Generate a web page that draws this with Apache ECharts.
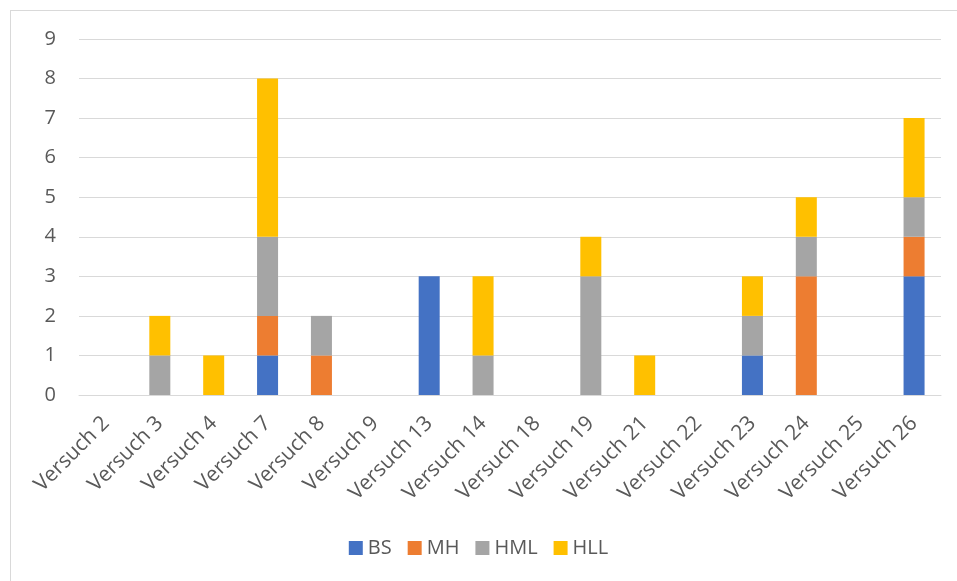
<!DOCTYPE html>
<html>
<head>
<meta charset="utf-8">
<script src="https://cdn.jsdelivr.net/npm/echarts@6/dist/echarts.min.js"></script>
<style>
  html, body { margin: 0; padding: 0; background: #fff; }
  #frame { position: absolute; left: 10px; top: 10px; width: 960px; height: 600px; border: 1px solid #d9d9d9; box-sizing: border-box; }
  #chart { position: absolute; left: 0; top: 0; width: 957px; height: 581px; }
</style>
</head>
<body>
<div id="frame"></div>
<div id="chart"></div>
<script>
const categories = ['Versuch 2', 'Versuch 3', 'Versuch 4', 'Versuch 7', 'Versuch 8', 'Versuch 9', 'Versuch 13', 'Versuch 14',
  'Versuch 18', 'Versuch 19', 'Versuch 21', 'Versuch 22', 'Versuch 23', 'Versuch 24', 'Versuch 25', 'Versuch 26']
const bs  = [0, 0, 0, 1, 0, 0, 3, 0, 0, 0, 0, 0, 1, 0, 0, 3]
const mh  = [0, 0, 0, 1, 1, 0, 0, 0, 0, 0, 0, 0, 0, 3, 0, 1]
const hml = [0, 1, 0, 2, 1, 0, 0, 1, 0, 3, 0, 0, 1, 1, 0, 1]
const hll = [0, 1, 1, 4, 0, 0, 0, 2, 0, 1, 1, 0, 1, 1, 0, 2]

const font = 'Open Sans, Noto Sans, sans-serif'
const textColor = '#595959'

function barSeries(name, data, color) {
  return {
    name: name,
    type: 'bar',
    stack: 'total',
    data: data,
    barWidth: '39%',
    itemStyle: { color: color },
    emphasis: { disabled: true },
  }
}

const myChart = echarts.init(document.getElementById('chart'))
const option = {
  animation: false,
  textStyle: { fontFamily: font },
  grid: { left: 79, right: 16, top: 39, bottom: 186 },
  legend: {
    bottom: 18,
    left: 'center',
    itemWidth: 14,
    itemHeight: 14,
    itemGap: 16,
    icon: 'rect',
    textStyle: { fontSize: 20, color: textColor, fontFamily: font },
    data: ['BS', 'MH', 'HML', 'HLL'],
  },
  xAxis: {
    type: 'category',
    data: categories,
    axisLine: { lineStyle: { color: '#d9d9d9' } },
    axisTick: { show: false },
    axisLabel: {
      rotate: 45,
      interval: 0,
      fontSize: 21,
      color: textColor,
      margin: 25,
    },
  },
  yAxis: {
    type: 'value',
    min: 0,
    max: 9,
    interval: 1,
    axisLine: { show: false },
    axisTick: { show: false },
    axisLabel: { fontSize: 20, color: textColor, margin: 23 },
    splitLine: { lineStyle: { color: '#d9d9d9', width: 1 } },
  },
  series: [
    barSeries('BS', bs, '#4472C4'),
    barSeries('MH', mh, '#ED7D31'),
    barSeries('HML', hml, '#A5A5A5'),
    barSeries('HLL', hll, '#FFC000'),
  ],
}
myChart.setOption(option)
</script>
</body>
</html>
